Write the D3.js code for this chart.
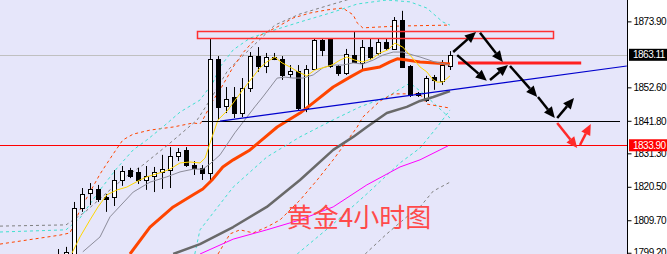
<!DOCTYPE html>
<html>
<head>
<meta charset="utf-8">
<script src="https://cdn.jsdelivr.net/npm/d3@7"></script>
<style>
html, body { margin: 0; padding: 0; background: #fff; }
svg { display: block; }
</style>
</head>
<body>
<script>
// candles, 4h bars (index 0 = first bar on the left)
var opens  = [1798.2,1796.2,1797.5,1813.7,1818.5,1819.8,1817.2,1817.2,1822.7,1825.9,1825.3,1822.7,1824.0,1825.3,1825.9,1830.4,1832.4,1827.5,1826.6,1825.0,1861.8,1846.6,1849.5,1844.3,1852.4,1862.7,1859.5,1862.4,1861.8,1856.9,1857.9,1845.9,1858.5,1867.9,1868.2,1859.5,1857.2,1863.0,1860.5,1865.6,1863.7,1867.2,1865.0,1874.3,1859.5,1850.8,1848.5,1855.9,1854.7,1859.5];
var highs  = [1800.4,1801.1,1815.6,1820.1,1821.7,1821.1,1818.2,1825.9,1827.2,1826.6,1826.6,1827.2,1826.9,1830.8,1833.3,1833.0,1833.3,1828.8,1827.5,1868.2,1862.7,1852.7,1852.7,1855.6,1864.0,1865.6,1863.7,1863.7,1862.7,1859.8,1859.8,1859.8,1868.5,1868.2,1868.2,1859.8,1865.0,1870.5,1867.9,1868.2,1868.5,1868.5,1875.3,1877.3,1859.8,1851.1,1856.3,1856.6,1861.4,1864.3];
var lows   = [1795.3,1794.9,1796.2,1812.4,1814.6,1815.6,1812.4,1814.3,1820.8,1823.3,1821.4,1819.5,1818.8,1819.8,1820.1,1828.8,1826.9,1824.3,1822.7,1821.7,1842.1,1844.3,1842.7,1843.0,1851.1,1857.6,1857.2,1861.4,1855.0,1855.6,1845.3,1844.6,1858.2,1862.7,1858.9,1856.3,1856.6,1860.5,1858.2,1861.4,1863.0,1864.7,1864.7,1858.9,1849.5,1849.5,1847.9,1851.8,1853.4,1858.2];
var closes = [1796.9,1799.5,1813.7,1818.2,1819.8,1816.6,1816.6,1822.7,1825.6,1824.0,1822.7,1824.0,1825.3,1826.2,1830.4,1831.7,1827.5,1826.6,1825.0,1861.8,1846.3,1848.8,1844.3,1852.4,1862.7,1859.5,1862.4,1861.8,1856.6,1857.9,1845.9,1858.5,1867.9,1864.7,1859.5,1857.2,1863.4,1860.8,1865.6,1862.4,1867.2,1865.3,1874.3,1859.2,1850.1,1850.1,1855.6,1855.0,1859.8,1863.11];

// moving averages, [bar index, price]
var maFast = [[1.75,1799.1],[2.75,1804.3],[4,1809.8],[5,1814.0],[6.1,1817.9],[7.4,1819.5],[8.6,1820.4],[10.25,1822.7],[11.1,1823.7],[13.1,1825.3],[14,1826.2],[15.25,1828.2],[16.5,1828.5],[17.75,1828.2],[18.4,1829.8],[19,1834.6],[20,1842.1],[21.25,1845.3],[23.1,1851.8],[25.25,1858.9],[26.1,1860.8],[27.1,1862.4],[28,1860.5],[29,1859.2],[30,1857.6],[31.1,1856.3],[32.1,1858.2],[33.1,1858.9],[34.25,1859.8],[35.25,1861.4],[36.1,1862.4],[37.1,1861.4],[38.1,1860.8],[39.25,1861.8],[40.25,1863.7],[41.25,1864.7],[42.1,1866.9],[43.1,1865.6],[44,1863.0],[45.25,1859.2],[46.1,1857.6],[46.9,1855.0],[47.4,1854.3],[48.1,1854.3],[49,1856.3]];
var maMid = [[3.1,1799.5],[5.25,1804.3],[6.5,1810.8],[9.4,1818.8],[11.5,1822.0],[13.6,1823.7],[15.25,1825.3],[16.9,1826.2],[18.1,1826.2],[19,1827.9],[20.25,1830.8],[22.1,1837.9],[24.6,1846.3],[25.6,1849.5],[27.4,1855.6],[28.4,1855.9],[29.4,1855.6],[30.6,1855.6],[31.9,1856.6],[33.1,1858.9],[34.25,1859.8],[35.6,1859.8],[36.9,1860.5],[38.1,1860.1],[39.4,1861.4],[40.6,1863.0],[41.9,1864.0],[43.1,1864.0],[44.4,1863.0],[45.25,1862.4],[47.1,1860.8],[49,1859.8]];
var maSlow = [[9,1798.8],[11.5,1807.5],[14.4,1814.0],[16.9,1817.9],[18.1,1819.8],[19.25,1822.7],[20.6,1826.9],[21.9,1829.2],[24,1832.4],[25.6,1835.9],[27.4,1839.8],[30.25,1844.3],[31.9,1847.6],[34.4,1852.7],[36.5,1855.9],[38.1,1858.2],[40.25,1859.2],[41.5,1860.8],[42.4,1861.8],[43.6,1861.4],[45.25,1860.8],[47.1,1860.5],[49,1860.1]];
var maLong = [[14.4,1798.8],[17.75,1802.0],[20.25,1805.3],[21.9,1807.5],[26.1,1814.0],[30.25,1822.7],[34.4,1832.4],[36.9,1836.6],[38.6,1839.8],[41.1,1844.3],[43.6,1846.3],[45.25,1848.2],[46.9,1849.5],[49,1851.4]];
var maVeryLong = [[17.75,1798.8],[21.9,1803.6],[26.1,1806.6],[30.25,1809.8],[34.4,1814.0],[38.6,1821.1],[42.75,1826.9],[45.25,1829.2],[48.75,1833.7]];

// channel bands (dotted), [bar index, price]
var bandGrayUp = [[-7.25,1807.8],[1,1808.2],[3.4,1812.4],[6.5,1819.5],[8.6,1824.0],[10.6,1827.5],[14,1834.6],[17.4,1842.1],[19,1848.5],[21.25,1858.2],[24.25,1865.6],[27.1,1872.7],[30.25,1876.3],[34.4,1879.5],[36.1,1880.8],[40.25,1883.4],[46.5,1883.4],[49,1881.8]];
var bandOrangeUp = [[-7.25,1802.0],[0.25,1804.9],[1.5,1805.6],[2.75,1813.0],[5.25,1824.6],[6.9,1831.1],[8.1,1835.6],[9.4,1837.5],[11.5,1838.8],[14.4,1839.8],[16.9,1841.1],[17.75,1840.8],[18.1,1842.1],[19.4,1848.5],[20.25,1851.8],[21.9,1859.2],[23.1,1863.7],[24.9,1868.9],[27.4,1872.1],[29.4,1875.0],[31.5,1876.6],[33.6,1877.6],[35.6,1878.2],[36.9,1876.0],[37.4,1873.4],[38.1,1871.8],[40.25,1872.1],[42.75,1872.4],[49,1872.7]];
var bandCyanUp = [[-7.25,1805.9],[1,1806.6],[2.75,1810.4],[5.25,1819.5],[7.4,1826.6],[9.4,1832.4],[11.1,1835.6],[13.1,1839.8],[15.25,1844.6],[17.75,1848.5],[19.4,1854.3],[20.25,1859.2],[21.9,1864.7],[24,1868.5],[27.4,1871.4],[30.25,1873.7],[34.4,1876.9],[37.4,1879.5],[41.1,1880.8],[44,1880.2],[46.1,1878.2],[48.1,1873.7],[49,1872.7]];
var bandCyanLow = [[17.1,1798.8],[17.75,1806.6],[21.9,1820.4],[26.1,1830.1],[30.25,1836.6],[34.4,1842.1],[37.75,1846.3],[41.1,1849.5],[44,1854.0],[45.9,1850.1],[48,1845.0],[49,1842.7]];
var bandCyanLow2 = [[29.9,1798.8],[34.4,1808.5],[38.6,1818.2],[42.75,1828.2],[45.25,1833.0],[47.4,1839.8],[49,1845.3]];
var bandOrangeLow = [[20,1798.8],[21.5,1805.3],[22.75,1806.6],[24.4,1805.6],[26.1,1807.5],[27.75,1809.8],[30.25,1816.2],[32.4,1822.7],[34.4,1829.2],[36.5,1836.6],[37.4,1839.8],[38.1,1843.0],[40.25,1848.2],[41.9,1850.5],[45.25,1850.5],[46.1,1847.2],[49,1845.9]];
var bandGrayLow = [[38.4,1798.8],[41.1,1805.3],[43.6,1810.8],[45.25,1814.0],[46.9,1819.1],[49,1822.0]];

// drawn objects
var zoneBox = [17.4, 61.9, 1870.8, 1868.5];      // from bar, to bar, top, bottom
var resistLine = [50.0, 65.4, 1860.5];           // from bar, to bar, price
var supportLine = [18.0, 70.25, 1841.8];
var trendLine = [20.25, 1841.7, 71.1, 1859.5];  // two anchors
var blackArrows = [
  [49.4, 1864.0, 52.25, 1870.5],
  [52.75, 1870.2, 55.6, 1860.8],
  [49.9, 1863.0, 53.6, 1854.7],
  [54.0, 1855.0, 56.25, 1859.8],
  [56.5, 1859.5, 59.9, 1849.5],
  [60.0, 1849.5, 62.1, 1842.7],
  [62.4, 1842.7, 64.5, 1849.2]
];
var redArrows = [
  [62.4, 1841.1, 64.9, 1833.0],
  [65.25, 1834.0, 66.6, 1840.8]
];
var titleText = "黄金4小时图";
var titleAnchor = [28.6, 1807.5];

var priceTicks = [1873.90, 1852.60, 1841.80, 1831.30, 1820.50, 1809.70, 1799.20];
var lastPrice = 1863.11;
var alertPrice = 1833.90;

// ---------------------------------------------------------------
var width = 667, height = 254, plotW = 627;

var x = d3.scaleLinear().domain([0, 71.125]).range([58, plotW]);
var y = d3.scaleLinear().domain([1798.8, 1880.8]).range([height, 0]);
var crisp = v => Math.round(v) + 0.5;

var svg = d3.select("body").append("svg")
    .attr("width", width)
    .attr("height", height)
    .style("font-family", "'Liberation Sans', Arial, sans-serif");

svg.append("rect").attr("width", width).attr("height", height).attr("fill", "#ffffff");
svg.append("rect").attr("width", plotW).attr("height", height).attr("fill", "#e6e6fa");

svg.append("defs").append("clipPath").attr("id", "plot")
    .append("rect").attr("width", plotW).attr("height", height);

var g = svg.append("g").attr("clip-path", "url(#plot)");

// horizontal price lines
g.append("line")
    .attr("x1", 0).attr("x2", plotW)
    .attr("y1", crisp(y(lastPrice))).attr("y2", crisp(y(lastPrice)))
    .attr("stroke", "#c0c0c0");
g.append("line")
    .attr("x1", 0).attr("x2", plotW)
    .attr("y1", crisp(y(alertPrice))).attr("y2", crisp(y(alertPrice)))
    .attr("stroke", "#ff0000");

var line = d3.line().x(d => x(d[0])).y(d => y(d[1]));

// dotted bands
[[bandGrayUp, "#808080"], [bandOrangeUp, "#ff4500"], [bandCyanUp, "#40e0d0"],
 [bandCyanLow, "#40e0d0"], [bandCyanLow2, "#40e0d0"], [bandOrangeLow, "#ff4500"],
 [bandGrayLow, "#808080"]].forEach(function (b) {
    g.append("path")
        .attr("d", line(b[0]))
        .attr("fill", "none")
        .attr("stroke", b[1])
        .attr("stroke-width", 1)
        .attr("stroke-dasharray", "3,3");
});

// candles
var candles = d3.range(opens.length).map(i => ({
    i: i, o: opens[i], h: highs[i], l: lows[i], c: closes[i]
}));

var cg = g.append("g");
cg.selectAll("line.wick")
    .data(candles)
    .join("line")
    .attr("class", "wick")
    .attr("x1", d => crisp(x(d.i))).attr("x2", d => crisp(x(d.i)))
    .attr("y1", d => y(d.h)).attr("y2", d => y(d.l))
    .attr("stroke", "#000");

cg.selectAll("rect.body")
    .data(candles)
    .join("rect")
    .attr("class", "body")
    .attr("x", d => Math.round(x(d.i)) - 2 + 0.5)
    .attr("width", 4)
    .attr("y", d => crisp(y(Math.max(d.o, d.c))))
    .attr("height", d => Math.max(1, Math.round(y(Math.min(d.o, d.c)) - y(Math.max(d.o, d.c)))))
    .attr("fill", d => d.c >= d.o ? "#ffffff" : "#000000")
    .attr("stroke", "#000");

// moving averages
[[maVeryLong, "#ff00ff", 1], [maLong, "#696969", 2.5], [maSlow, "#ff4500", 3],
 [maMid, "#8c8c9a", 1], [maFast, "#ffd700", 1]].forEach(function (m) {
    g.append("path")
        .attr("d", line(m[0]))
        .attr("fill", "none")
        .attr("stroke", m[1])
        .attr("stroke-width", m[2])
        .attr("stroke-linejoin", "round");
});

// drawn objects
g.append("rect")
    .attr("x", crisp(x(zoneBox[0])))
    .attr("y", crisp(y(zoneBox[2])))
    .attr("width", Math.round(x(zoneBox[1]) - x(zoneBox[0])))
    .attr("height", Math.round(y(zoneBox[3]) - y(zoneBox[2])))
    .attr("fill", "none")
    .attr("stroke", "#ff3030")
    .attr("stroke-width", 1.5);

g.append("line")
    .attr("x1", x(supportLine[0])).attr("x2", x(supportLine[1]))
    .attr("y1", crisp(y(supportLine[2]))).attr("y2", crisp(y(supportLine[2])))
    .attr("stroke", "#000");

g.append("line")
    .attr("x1", x(trendLine[0])).attr("y1", y(trendLine[1]))
    .attr("x2", x(trendLine[2])).attr("y2", y(trendLine[3]))
    .attr("stroke", "#0000cd")
    .attr("stroke-width", 1.2);

g.append("line")
    .attr("x1", x(resistLine[0])).attr("x2", x(resistLine[1]))
    .attr("y1", y(resistLine[2])).attr("y2", y(resistLine[2]))
    .attr("stroke", "#ff2020")
    .attr("stroke-width", 3);

function drawArrow(a, color) {
    var x1 = x(a[0]), y1 = y(a[1]), x2 = x(a[2]), y2 = y(a[3]);
    var ang = Math.atan2(y2 - y1, x2 - x1);
    var hl = 11, hw = 5;
    var bx = x2 - hl * Math.cos(ang), by = y2 - hl * Math.sin(ang);
    var nx = -Math.sin(ang), ny = Math.cos(ang);
    g.append("line")
        .attr("x1", x1).attr("y1", y1).attr("x2", bx).attr("y2", by)
        .attr("stroke", color).attr("stroke-width", 2.5);
    g.append("path")
        .attr("d", d3.line()([[x2, y2], [bx + hw * nx, by + hw * ny], [bx - hw * nx, by - hw * ny]]) + "Z")
        .attr("fill", color);
}
blackArrows.forEach(a => drawArrow(a, "#000"));
redArrows.forEach(a => drawArrow(a, "#ff2a2a"));

g.append("text")
    .attr("x", x(titleAnchor[0]))
    .attr("y", y(titleAnchor[1]))
    .attr("fill", "#ff4a4a")
    .style("font-family", "'Noto Sans CJK SC', sans-serif")
    .style("font-size", "26px")
    .text(titleText);

// price axis
var axis = svg.append("g")
    .attr("transform", "translate(" + (plotW + 0.5) + ",0)")
    .call(d3.axisRight(y).tickValues(priceTicks).tickFormat(d3.format(".2f")).tickSize(4).tickPadding(2));
axis.select(".domain").attr("d", "M0,0V" + height).attr("stroke", "#000");
axis.selectAll(".tick line").attr("stroke", "#000");
axis.selectAll(".tick text")
    .attr("fill", "#000")
    .style("font-size", "10px")
    .style("letter-spacing", "-0.5px")
    .style("font-family", "'Liberation Sans', Arial, sans-serif");

function priceTag(p, bg) {
    var t = svg.append("g").attr("transform", "translate(" + (plotW + 2) + "," + y(p) + ")");
    t.append("rect").attr("x", 0).attr("y", -6).attr("width", width - plotW - 2).attr("height", 12).attr("fill", bg);
    t.append("text")
        .attr("x", 4).attr("dy", "0.35em")
        .attr("fill", "#fff")
        .style("font-size", "10px")
        .style("letter-spacing", "-0.5px")
        .text(d3.format(".2f")(p));
}
priceTag(lastPrice, "#000000");
priceTag(alertPrice, "#ff0000");
</script>
</body>
</html>
